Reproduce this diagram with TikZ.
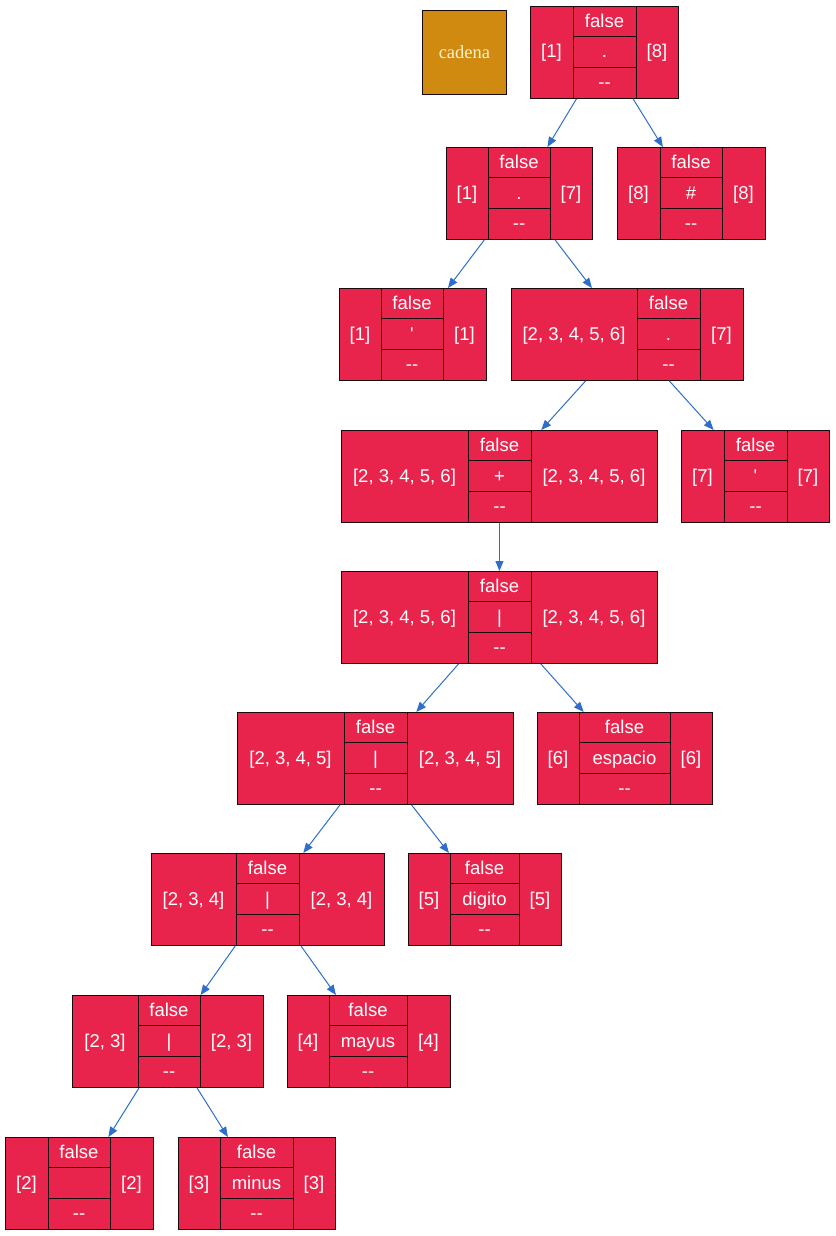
\documentclass[tikz,border=0pt]{standalone}
\usepackage{fontspec}
\setmainfont{Liberation Sans}
\newfontfamily\cadserif{Liberation Serif}
\usetikzlibrary{arrows.meta}
\definecolor{recfill}{HTML}{E8244C}
\definecolor{edgeblue}{HTML}{2F6FCC}
\definecolor{cadfill}{HTML}{D08A10}
\definecolor{cadtext}{HTML}{FFF2C8}
\definecolor{recdraw}{HTML}{1A0A0E}
\tikzset{
  recbox/.style={draw=recdraw, fill=recfill, line width=0.9pt, minimum height=92pt, inner sep=0pt},
  recline/.style={draw=recdraw, line width=0.9pt},
  rectext/.style={text=white, inner sep=0pt, text height=13pt, text depth=4pt, yshift=-1.5pt, font=\fontsize{18.5}{20}\selectfont},
  edge/.style={draw=edgeblue, line width=1pt, -{Triangle[length=10pt,width=8pt]}},
  cadbox/.style={draw=recdraw, fill=cadfill, line width=0.9pt, minimum width=84pt, minimum height=84pt, inner sep=0pt,
    text=cadtext, font=\cadserif\fontsize{18.5}{20}\selectfont}
}
\newcommand\rec[9]{%
  \node[recbox, minimum width={(#5-#2)*1pt}, anchor=north west] (#1) at (#2,#6) {};
  \draw[recline] (#3,#6) -- (#3,{#6+92});
  \draw[recline] (#4,#6) -- (#4,{#6+92});
  \draw[recline] (#3,{#6+92/3}) -- (#4,{#6+92/3});
  \draw[recline] (#3,{#6+2*92/3}) -- (#4,{#6+2*92/3});
  \node[rectext] (#1-l) at ({(#2+#3)/2},{#6+46}) {#7};
  \node[rectext] (#1-t) at ({(#3+#4)/2},{#6+92/6}) {false};
  \node[rectext] (#1-m) at ({(#3+#4)/2},{#6+46}) {#8};
  \node[rectext] (#1-b) at ({(#3+#4)/2},{#6+5*92/6}) {-{}-};
  \node[rectext] (#1-r) at ({(#4+#5)/2},{#6+46}) {#9};
}
\begin{document}
\begin{tikzpicture}[x=1pt, y=-1pt]
  \fill[white] (0,0) rectangle (835,1236);
  \useasboundingbox (0,0) rectangle (835,1236);
  \node[cadbox, anchor=north west] (cadena) at (422,10) {cadena};
  \rec{root}{530}{573}{636}{678}{6}{[1]}{.}{[8]}
  \rec{n1}{446}{488}{550}{592}{147}{[1]}{.}{[7]}
  \rec{n2}{617}{660}{722}{765}{147}{[8]}{\#}{[8]}
  \rec{n3}{339}{381}{443}{486}{288}{[1]}{\textquotesingle}{[1]}
  \rec{n4}{511}{637}{700}{743}{288}{[2, 3, 4, 5, 6]}{.}{[7]}
  \rec{n5}{341}{468}{531}{657}{430}{[2, 3, 4, 5, 6]}{+}{[2, 3, 4, 5, 6]}
  \rec{n6}{681}{724}{787}{829}{430}{[7]}{\textquotesingle}{[7]}
  \rec{n7}{341}{468}{531}{657}{571}{[2, 3, 4, 5, 6]}{|}{[2, 3, 4, 5, 6]}
  \rec{n8}{237}{344}{407}{513}{712}{[2, 3, 4, 5]}{|}{[2, 3, 4, 5]}
  \rec{n9}{537}{579}{670}{712}{712}{[6]}{espacio}{[6]}
  \rec{n10}{151}{236}{299}{384}{853}{[2, 3, 4]}{|}{[2, 3, 4]}
  \rec{n11}{408}{450}{519}{561}{853}{[5]}{digito}{[5]}
  \rec{n12}{72}{138}{200}{263}{995}{[2, 3]}{|}{[2, 3]}
  \rec{n13}{287}{329}{407}{450}{995}{[4]}{mayus}{[4]}
  \rec{n14}{5}{48}{110}{153}{1137}{[2]}{}{[2]}
  \rec{n15}{178}{220}{293}{335}{1137}{[3]}{minus}{[3]}
  \draw[edge] (root) -- (n1);
  \draw[edge] (root) -- (n2);
  \draw[edge] (n1) -- (n3);
  \draw[edge] (n1) -- (n4);
  \draw[edge] (n4) -- (n5);
  \draw[edge] (n4) -- (n6);
  \draw[edge] (n5) -- (n7);
  \draw[edge] (n7) -- (n8);
  \draw[edge] (n7) -- (n9);
  \draw[edge] (n8) -- (n10);
  \draw[edge] (n8) -- (n11);
  \draw[edge] (n10) -- (n12);
  \draw[edge] (n10) -- (n13);
  \draw[edge] (n12) -- (n14);
  \draw[edge] (n12) -- (n15);
\end{tikzpicture}
\end{document}
